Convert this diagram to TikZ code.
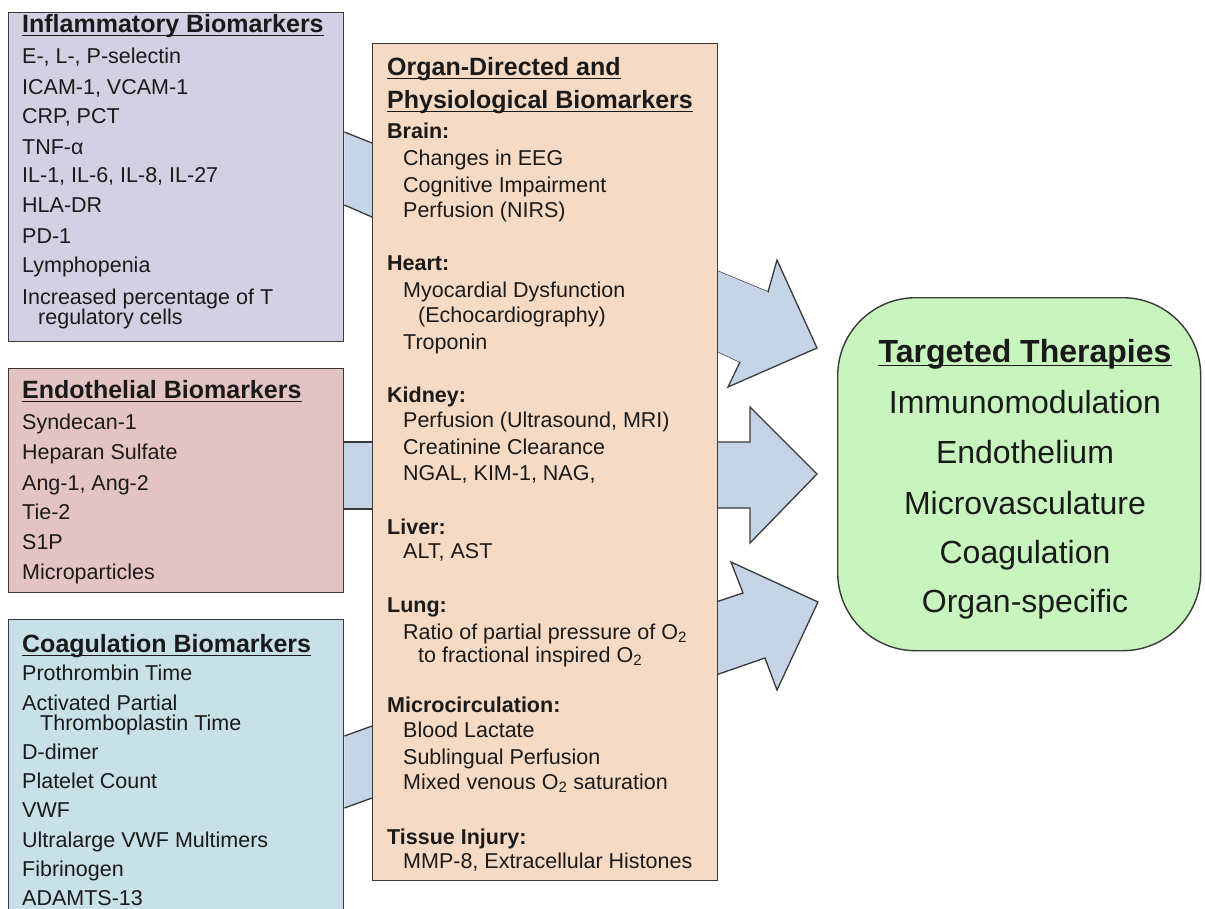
\documentclass[tikz,border=0pt]{standalone}
\usepackage{fontspec}
\setmainfont{Liberation Sans}
\definecolor{inflc}{HTML}{D4D0E4}
\definecolor{endoc}{HTML}{E4C4C3}
\definecolor{coagc}{HTML}{C8E0E8}
\definecolor{orgc}{HTML}{F6DAC4}
\definecolor{bandc}{HTML}{C6D4E8}
\definecolor{greenc}{HTML}{C8F5BE}
\definecolor{linec}{HTML}{3A3A3A}
\definecolor{txtc}{HTML}{1A1A1A}
\newcommand\ulline[1]{\draw[line width=1.6pt, txtc] ([yshift=-3.5pt]#1.base west) -- ([yshift=-3.5pt]#1.base east);}
\tikzset{
  box/.style={draw=linec, line width=1.4pt, anchor=north west, inner sep=0},
  band/.style={fill=bandc, draw=linec, line width=1.3pt, line join=miter},
  txt/.style={anchor=base west, inner sep=0, text=txtc, font=\fontsize{21.5}{24}\selectfont},
  hd/.style={txt, font=\fontsize{25}{28}\selectfont\bfseries},
  sub/.style={txt, font=\fontsize{21.5}{24}\selectfont\bfseries},
  big/.style={anchor=base, inner sep=0, text=txtc, font=\fontsize{32}{36}\selectfont},
  bighd/.style={big, font=\fontsize{32}{36}\selectfont\bfseries}
}
\begin{document}
\begin{tikzpicture}[x=1pt,y=-1pt]
\useasboundingbox (0,0) rectangle (1205,908);
\clip (0,0) rectangle (1205,908);
\fill[white] (0,0) rectangle (1205,908);

% boxes (nodes)
\node[box, fill=inflc, minimum width=335, minimum height=329] (infl) at (8,12) {};
\node[box, fill=endoc, minimum width=335, minimum height=224] (endo) at (8,368) {};
\node[box, fill=coagc, minimum width=335, minimum height=320] (coag) at (8,619) {};

% bands from left boxes to middle box
\fill[bandc] (infl.east |- 0,132) -- (372,143) -- (372,217) -- (infl.east |- 0,205) -- cycle;
\draw[linec, line width=1.3pt] (infl.east |- 0,132) -- (372,143);
\draw[linec, line width=1.3pt] (infl.east |- 0,205) -- (372,217);
\fill[bandc] (endo.east |- 0,442) -- (372,442) -- (372,509) -- (endo.east |- 0,509) -- cycle;
\draw[linec, line width=1.3pt] (endo.east |- 0,442) -- (372,442);
\draw[linec, line width=1.3pt] (endo.east |- 0,509) -- (372,509);
\fill[bandc] (coag.east |- 0,736) -- (372,726) -- (372,798) -- (coag.east |- 0,808) -- cycle;
\draw[linec, line width=1.3pt] (coag.east |- 0,736) -- (372,726);
\draw[linec, line width=1.3pt] (coag.east |- 0,808) -- (372,798);

% right block arrows
\coordinate (a1) at (710,268);
\coordinate (a2) at (710,348);
\path[band] (a1) -- (768,292) -- (777,260) -- (817,348) -- (728,387) -- (740,362) -- (a2);
\fill[bandc] (a1) -- (768,292) -- (740,362) -- (a2) -- cycle;
\coordinate (b1) at (710,442);
\coordinate (b2) at (710,508);
\path[band] (b1) -- (750,442) -- (750,407) -- (817,474) -- (750,543) -- (750,508) -- (b2);
\coordinate (c1) at (710,604);
\coordinate (c2) at (710,677);
\path[band] (c1) -- (743,593) -- (731,562) -- (818,602) -- (777,690) -- (765,658) -- (c2);

% middle box
\node[box, fill=orgc, minimum width=345, minimum height=837] (org) at (372,43) {};

% right box
\node[box, fill=greenc, rounded corners=78pt, minimum width=363, minimum height=353] (tt) at (837,297) {};

% Inflammatory
\node[hd] (ih) at (22,32) {Inflammatory Biomarkers}; \ulline{ih}
\node[txt] (i1) at (22,63) {E-, L-, P-selectin};
\node[txt] (i2) at (22,94) {ICAM-1, VCAM-1};
\node[txt] (i3) at (22,123) {CRP, PCT};
\node[txt] (i4) at (22,154) {TNF-α};
\node[txt] (i5) at (22,182) {IL-1, IL-6, IL-8, IL-27};
\node[txt] (i6) at (22,212) {HLA-DR};
\node[txt] (i7) at (22,243) {PD-1};
\node[txt] (i8) at (22,272) {Lymphopenia};
\node[txt] (i9) at (22,304) {Increased percentage of T};
\node[txt] (i10) at (38,324) {regulatory cells};

% Endothelial
\node[hd] (eh) at (22,398) {Endothelial Biomarkers}; \ulline{eh}
\node[txt] (e1) at (22,429) {Syndecan-1};
\node[txt] (e2) at (22,459) {Heparan Sulfate};
\node[txt] (e3) at (22,490) {Ang-1, Ang-2};
\node[txt] (e4) at (22,519) {Tie-2};
\node[txt] (e5) at (22,549) {S1P};
\node[txt] (e6) at (22,579) {Microparticles};

% Coagulation
\node[hd] (ch) at (22,652) {Coagulation Biomarkers}; \ulline{ch}
\node[txt] (c1t) at (22,680) {Prothrombin Time};
\node[txt] (c2t) at (22,710) {Activated Partial};
\node[txt] (c3t) at (40,730) {Thromboplastin Time};
\node[txt] (c4t) at (22,759) {D-dimer};
\node[txt] (c5t) at (22,788) {Platelet Count};
\node[txt] (c6t) at (22,817) {VWF};
\node[txt] (c7t) at (22,847) {Ultralarge VWF Multimers};
\node[txt] (c8t) at (22,876) {Fibrinogen};
\node[txt] (c9t) at (22,905) {ADAMTS-13};

% Organ-directed
\node[hd] (oh1) at (387,75) {Organ-Directed and}; \ulline{oh1}
\node[hd] (oh2) at (387,108) {Physiological Biomarkers}; \ulline{oh2}
\node[sub] (s1) at (387,138) {Brain:};
\node[txt] (o1) at (403,165) {Changes in EEG};
\node[txt] (o2) at (403,192) {Cognitive Impairment};
\node[txt] (o3) at (403,217) {Perfusion (NIRS)};
\node[sub] (s2) at (387,270) {Heart:};
\node[txt] (o4) at (403,297) {Myocardial Dysfunction};
\node[txt] (o5) at (418,322) {(Echocardiography)};
\node[txt] (o6) at (403,349) {Troponin};
\node[sub] (s3) at (387,402) {Kidney:};
\node[txt] (o7) at (403,427) {Perfusion (Ultrasound, MRI)};
\node[txt] (o8) at (403,454) {Creatinine Clearance};
\node[txt] (o9) at (403,480) {NGAL, KIM-1, NAG,};
\node[sub] (s4) at (387,534) {Liver:};
\node[txt] (o10) at (403,558) {ALT, AST};
\node[sub] (s5) at (387,612) {Lung:};
\node[txt] (o11) at (403,639) {Ratio of partial pressure of O\textsubscript{2}};
\node[txt] (o12) at (418,662) {to fractional inspired O\textsubscript{2}};
\node[sub] (s6) at (387,712) {Microcirculation:};
\node[txt] (o13) at (403,737) {Blood Lactate};
\node[txt] (o14) at (403,764) {Sublingual Perfusion};
\node[txt] (o15) at (403,789) {Mixed venous O\textsubscript{2} saturation};
\node[sub] (s7) at (387,844) {Tissue Injury:};
\node[txt] (o16) at (403,868) {MMP-8, Extracellular Histones};

% Targeted therapies
\node[bighd] (th) at (1025,362) {Targeted Therapies}; \ulline{th}
\node[big] (t1) at (1025,413) {Immunomodulation};
\node[big] (t2) at (1025,463) {Endothelium};
\node[big] (t3) at (1025,514) {Microvasculature};
\node[big] (t4) at (1025,563) {Coagulation};
\node[big] (t5) at (1025,612) {Organ-specific};
\end{tikzpicture}
\end{document}
